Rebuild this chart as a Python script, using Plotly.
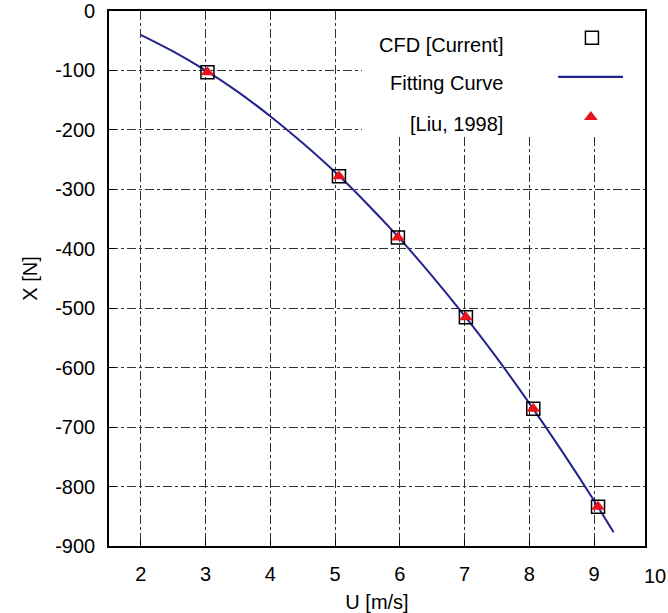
import plotly.graph_objects as go

# Drag force X against current speed U
u_cfd = [3.03, 5.06, 5.97, 7.02, 8.06, 9.06]
x_cfd = [-103, -278, -381, -515, -669, -834]

u_liu = [3.03, 5.06, 5.97, 7.02, 8.06, 9.06]
x_liu = [-103, -278, -381, -515, -669, -834]

# Fitted curve through the CFD results
u_fit = [2.0, 2.5, 3.0, 3.5, 4.0, 4.5, 5.0, 5.5, 6.0, 6.5, 7.0, 7.5, 8.0, 8.5, 9.0, 9.3]
x_fit = [-40, -68, -100, -136, -177, -222, -271, -325, -383, -446, -513, -584, -660, -740, -824, -877]

# Axis ticks
u_ticks = [2, 3, 4, 5, 6, 7, 8, 9]
u_last_tick = 10
x_ticks = [0, -100, -200, -300, -400, -500, -600, -700, -800, -900]

u_range = [1.51, 9.785]
x_range = [-900, 0]

FONT = "Liberation Sans, Arial, sans-serif"
FS = 20
NAVY = "#23238e"
RED = "#e8141c"
GRID = "#333333"


def ux(f):
    """Fraction of the plot width -> U value."""
    return u_range[0] + f * (u_range[1] - u_range[0])


def xy(f):
    """Fraction of the plot height -> X value."""
    return x_range[0] + f * (x_range[1] - x_range[0])


fig = go.Figure()

# White panel behind the key, hiding the grid there
kx0, kx1, ky0, ky1 = ux(0.472), ux(1.0), xy(0.766), xy(1.0)
fig.add_trace(go.Scatter(
    x=[kx0, kx1, kx1, kx0, kx0], y=[ky0, ky0, ky1, ky1, ky0], mode="lines",
    fill="toself", fillcolor="white", line=dict(width=0), hoverinfo="skip"))

fig.add_trace(go.Scatter(
    x=u_fit, y=x_fit, mode="lines", line=dict(color=NAVY, width=2, shape="spline"),
    name="Fitting Curve", hoverinfo="skip"))
fig.add_trace(go.Scatter(
    x=u_cfd, y=x_cfd, mode="markers",
    marker=dict(symbol="square-open", size=13, color="black", line=dict(width=1.5)),
    name="CFD [Current]"))
fig.add_trace(go.Scatter(
    x=u_liu, y=x_liu, mode="markers",
    marker=dict(symbol="triangle-up", size=12, color=RED, line=dict(width=0)),
    name="[Liu, 1998]"))

# Key in the upper right, symbols to the right of the labels
fig.add_trace(go.Scatter(
    x=[ux(0.901)], y=[xy(0.950)], mode="markers",
    marker=dict(symbol="square-open", size=13, color="black", line=dict(width=1.5)),
    hoverinfo="skip"))
fig.add_trace(go.Scatter(
    x=[ux(0.838), ux(0.959)], y=[xy(0.877), xy(0.877)], mode="lines",
    line=dict(color=NAVY, width=2.2), hoverinfo="skip"))
fig.add_trace(go.Scatter(
    x=[ux(0.899)], y=[xy(0.802)], mode="markers",
    marker=dict(symbol="triangle-up", size=12, color=RED, line=dict(width=0)),
    hoverinfo="skip"))

key_labels = [("CFD [Current]", 0.936), ("Fitting Curve", 0.865), ("[Liu, 1998]", 0.789)]
annotations = [
    dict(text=t, xref="paper", yref="paper", x=0.739, y=y, xanchor="right", yanchor="middle",
         showarrow=False, font=dict(family=FONT, size=FS, color="black"))
    for t, y in key_labels
]
# last x tick label sits just past the frame
annotations.append(dict(
    text=str(u_last_tick), xref="paper", yref="paper",
    x=(u_last_tick - u_range[0]) / (u_range[1] - u_range[0]), y=0,
    xanchor="center", yanchor="top", yshift=-17, xshift=-4, showarrow=False,
    font=dict(family=FONT, size=FS, color="black")))

axis_common = dict(
    showline=True, linecolor="black", linewidth=1.6, mirror=True,
    ticks="inside", ticklen=6, tickcolor="black", tickwidth=1.2,
    showgrid=True, gridcolor=GRID, gridwidth=1, griddash="dashdot",
    zeroline=False, automargin=False,
    tickfont=dict(family=FONT, size=FS, color="black"),
)

fig.update_layout(
    width=668, height=613,
    margin=dict(l=109, r=23, t=11, b=67),
    paper_bgcolor="white", plot_bgcolor="white",
    showlegend=False,
    xaxis=dict(range=u_range, tickvals=u_ticks, ticktext=[str(v) for v in u_ticks],
               ticklabelstandoff=9,
               title=dict(text="U [m/s]", font=dict(family=FONT, size=FS, color="black"), standoff=13),
               **axis_common),
    yaxis=dict(range=x_range, tickvals=x_ticks, ticktext=[str(v) for v in x_ticks],
               ticklabelstandoff=8,
               title=dict(text="X [N]", font=dict(family=FONT, size=FS, color="black"), standoff=12),
               **axis_common),
    annotations=annotations,
)

fig.write_html("out.html")
